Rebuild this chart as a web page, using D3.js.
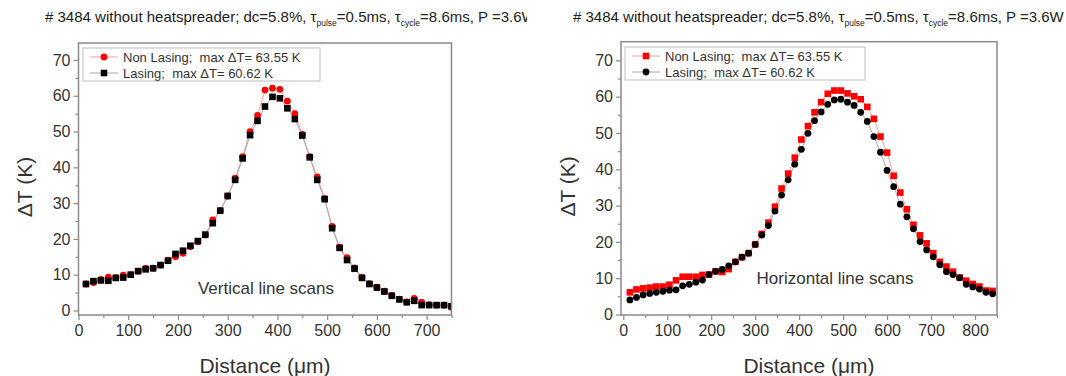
<!DOCTYPE html>
<html><head><meta charset="utf-8">
<script src="https://cdn.jsdelivr.net/npm/d3@7"></script>
<style>
body{margin:0;background:#fff;}
svg{display:block;font-family:"Liberation Sans",Arial,sans-serif;}
text{white-space:pre;}
</style></head><body>
<svg id="chart" width="1066" height="376"></svg>
<script>
// Vertical line scan: distance (µm) and temperature rise (K)
const vertDistance = [15,30,45,60,75,90,105,120,135,150,165,180,195,210,225,240,255,270,285,300,
  315,330,345,360,375,390,405,420,435,450,465,480,495,510,525,540,555,570,585,600,
  615,630,645,660,675,690,705,720,735,750];
const vertNonLasing = [7.4,7.8,8.7,9.3,9.2,9.9,10.0,11.0,11.8,11.8,12.7,14.1,15.0,16.0,17.8,19.2,21.1,25.3,27.9,32.0,
  37.0,43.0,50.0,54.5,61.6,62.1,61.8,58.5,55.0,49.2,43.0,37.3,31.3,23.5,17.7,14.8,11.9,9.3,7.5,6.5,
  5.4,4.2,3.2,2.4,3.4,2.3,1.6,1.5,1.5,0.9];
const vertLasing = [7.4,8.2,8.4,8.3,9.1,9.2,10.0,11.0,11.5,11.8,12.7,13.9,15.8,16.7,18.1,19.4,21.2,24.4,27.9,32.0,
  36.5,42.5,49.0,53.0,57.0,59.7,59.3,56.5,53.5,48.9,42.8,36.5,31.1,23.0,17.5,14.1,11.7,9.1,7.4,6.4,
  5.3,4.1,3.1,2.3,2.7,1.5,1.5,1.5,1.5,1.2];

// Horizontal line scan
const horDistance = [15,30,45,60,75,90,105,120,135,150,165,180,195,210,225,240,255,270,285,300,
  315,330,345,360,375,390,405,420,435,450,465,480,495,510,525,540,555,570,585,600,
  615,630,645,660,675,690,705,720,735,750,765,780,795,810,825,840];
const horNonLasing = [6.1,6.9,7.2,7.4,7.7,7.7,8.2,9.4,10.4,10.4,10.4,10.9,11.0,11.9,11.7,12.5,14.5,15.8,16.9,19.3,
  22.2,25.3,29.7,34.7,38.8,43.2,48.2,51.9,55.7,58.5,60.8,61.7,61.7,60.9,60.1,59.3,57.2,53.9,49.0,44.6,
  38.2,33.6,29.0,24.7,21.8,19.6,16.9,14.5,13.2,11.8,10.2,9.3,8.4,7.7,6.6,6.5];
const horLasing = [4.0,4.7,5.4,5.8,6.1,6.4,6.7,6.8,7.9,8.3,8.9,9.5,11.0,11.9,12.4,13.4,14.5,15.8,16.9,19.3,
  21.9,24.5,28.5,32.9,37.1,41.4,45.5,49.9,53.4,55.8,57.9,59.1,59.3,58.5,57.6,55.7,53.2,49.0,44.7,39.7,
  35.2,30.4,26.9,23.6,20.1,17.8,15.9,13.7,11.8,11.0,10.1,8.3,7.6,7.0,6.1,5.7];

// Ticks and labels
const yTicks = [0,10,20,30,40,50,60,70];
const yMinorTicks = [5,15,25,35,45,55,65];
const vertXTicks = [0,100,200,300,400,500,600,700];
const vertXMinor = [50,150,250,350,450,550,650,750];
const horXTicks = [0,100,200,300,400,500,600,700,800];
const horXMinor = [50,150,250,350,450,550,650,750,850];
const legendLabels = ["Non Lasing;  max \u0394T= 63.55 K", "Lasing;  max \u0394T= 60.62 K"];
const xTitle = "Distance (\u03bcm)";
const yTitle = "\u0394T (K)";

const svg = d3.select("#chart");
svg.append("rect").attr("width",1066).attr("height",376).attr("fill","#fff");

const TEXT = "#333";
const FRAME = "#8a8a8a";
const RED = "#ff0000";

function marker(sel, shape, fill, x, y) {
  if (shape === "circle") {
    sel.append("circle").attr("cx", x).attr("cy", y).attr("r", 3.4).attr("fill", fill);
  } else {
    sel.append("rect").attr("x", x - 3.3).attr("y", y - 3.3)
      .attr("width", 6.6).attr("height", 6.6).attr("fill", fill);
  }
}

function drawPanel(cfg) {
  const root = svg.append("g");
  if (cfg.clipWidth) {
    const id = "clip-" + cfg.id;
    svg.append("defs").append("clipPath").attr("id", id)
      .append("rect").attr("x", 0).attr("y", 0).attr("width", cfg.clipWidth).attr("height", 376);
    root.attr("clip-path", `url(#${id})`);
  }
  const x = d3.scaleLinear(cfg.xDomain, cfg.xRange);
  const y = d3.scaleLinear(cfg.yDomain, cfg.yRange);
  const [x0, x1] = cfg.xRange, [y0, y1] = cfg.yRange;

  // Title with subscripted tau labels
  const t = root.append("text").attr("x", cfg.titleX).attr("y", 22)
    .attr("font-size", 15).attr("fill", "#222");
  t.append("tspan").text("# 3484 without heatspreader; dc=5.8%, \u03c4");
  t.append("tspan").attr("font-size", 8.5).attr("dy", 4).text("pulse");
  t.append("tspan").attr("dy", -4).text("=0.5ms, \u03c4");
  t.append("tspan").attr("font-size", 8.5).attr("dy", 4).text("cycle");
  t.append("tspan").attr("dy", -4).text("=8.6ms, P =3.6W");

  // Plot clip for the data
  const pid = "plot-" + cfg.id;
  svg.append("defs").append("clipPath").attr("id", pid)
    .append("rect").attr("x", x0).attr("y", y1).attr("width", x1 - x0).attr("height", y0 - y1);

  const plot = root.append("g").attr("clip-path", `url(#${pid})`);
  const series = [
    {xs: cfg.xs, ys: cfg.nonLasing, color: RED, line: "#ff9c9c", shape: cfg.redShape},
    {xs: cfg.xs, ys: cfg.lasing, color: "#000", line: "#a8a8a8", shape: cfg.blackShape}
  ];
  series.forEach(s => {
    const pts = s.xs.map((d, i) => [d, s.ys[i]]);
    plot.append("path").datum(pts)
      .attr("d", d3.line().x(d => x(d[0])).y(d => y(d[1])))
      .attr("fill", "none").attr("stroke", s.line).attr("stroke-width", 1);
  });
  series.forEach(s => {
    s.xs.forEach((d, i) => marker(plot, s.shape, s.color, x(d), y(s.ys[i])));
  });

  // Axes
  root.append("g").attr("transform", `translate(0,${y0})`)
    .call(d3.axisBottom(x).tickValues(cfg.xTicks).tickSize(5).tickPadding(5).tickFormat(d3.format("d")));
  root.append("g").attr("transform", `translate(0,${y0})`)
    .call(d3.axisBottom(x).tickValues(cfg.xMinor).tickSize(3).tickFormat(""));
  root.append("g").attr("transform", `translate(${x0},0)`)
    .call(d3.axisLeft(y).tickValues(yTicks).tickSize(5).tickPadding(3).tickFormat(d3.format("d")));
  root.append("g").attr("transform", `translate(${x0},0)`)
    .call(d3.axisLeft(y).tickValues(yMinorTicks).tickSize(3).tickFormat(""));
  root.selectAll(".domain").remove();
  root.selectAll(".tick line").attr("stroke", FRAME).attr("stroke-width", 1.2);
  root.selectAll(".tick text").attr("font-size", 16).attr("fill", TEXT)
    .attr("font-family", "'Liberation Sans',Arial,sans-serif");

  // Frame
  root.append("rect").attr("x", x0).attr("y", y1).attr("width", x1 - x0).attr("height", y0 - y1)
    .attr("fill", "none").attr("stroke", FRAME).attr("stroke-width", 1.5);

  // Legend
  const lg = root.append("g");
  lg.append("rect").attr("x", cfg.legend.x).attr("y", cfg.legend.y)
    .attr("width", cfg.legend.w).attr("height", cfg.legend.h)
    .attr("fill", "#fff").attr("stroke", "#c8c8c8").attr("stroke-width", 1.2);
  legendLabels.forEach((lab, i) => {
    const cy = cfg.legend.y + 9 + i * 16;
    const lx = cfg.legend.x + 7;
    lg.append("line").attr("x1", lx).attr("x2", lx + 28).attr("y1", cy).attr("y2", cy)
      .attr("stroke", series[i].line).attr("stroke-width", 1);
    marker(lg, series[i].shape, series[i].color, lx + 14, cy);
    lg.append("text").attr("x", lx + 33).attr("y", cy).attr("dy", "0.36em")
      .attr("font-size", 13).attr("fill", TEXT).text(lab);
  });

  // Annotation
  root.append("text").attr("x", cfg.note.x).attr("y", cfg.note.y).attr("dy", "0.35em")
    .attr("text-anchor", "middle").attr("font-size", 17).attr("fill", TEXT).text(cfg.note.text);

  // Axis titles
  root.append("text").attr("x", (x0 + x1) / 2).attr("y", 366).attr("dy", "0.35em")
    .attr("text-anchor", "middle").attr("font-size", 21).attr("fill", TEXT).text(xTitle);
  root.append("text").attr("transform", `translate(${cfg.yTitleX},${(y0 + y1) / 2 + 8}) rotate(-90)`)
    .attr("dy", "0.35em").attr("text-anchor", "middle").attr("font-size", 21).attr("fill", TEXT).text(yTitle);
}

drawPanel({
  id: "vert", clipWidth: 527, titleX: 45,
  xs: vertDistance, nonLasing: vertNonLasing, lasing: vertLasing,
  redShape: "circle", blackShape: "square",
  xDomain: [0, 750], xRange: [78.5, 451.5],
  yDomain: [-1.26, 74.75], yRange: [315, 43],
  xTicks: vertXTicks, xMinor: vertXMinor,
  legend: {x: 83, y: 48, w: 237, h: 33},
  note: {x: 266, y: 288, text: "Vertical line scans"},
  yTitleX: 25
});

drawPanel({
  id: "hor", titleX: 573,
  xs: horDistance, nonLasing: horNonLasing, lasing: horLasing,
  redShape: "square", blackShape: "circle",
  xDomain: [-5.2, 850], xRange: [621, 997],
  yDomain: [-0.14, 75.15], yRange: [315, 41.7],
  xTicks: horXTicks, xMinor: horXMinor,
  legend: {x: 625, y: 47, w: 240, h: 33},
  note: {x: 835, y: 278, text: "Horizontal line scans"},
  yTitleX: 568
});
</script>
</body></html>
